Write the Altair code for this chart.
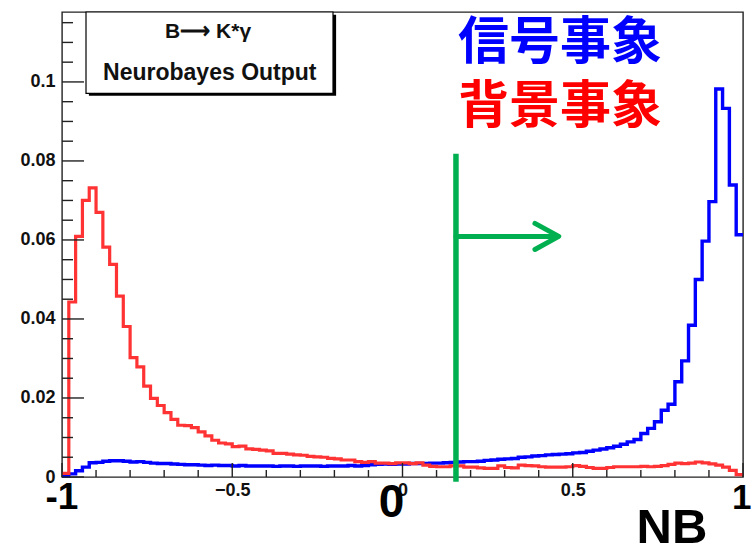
import altair as alt
import numpy as np
import pandas as pd

# ---------------- data ----------------
signal = [
    0.0003, 0.0008, 0.0016, 0.0025, 0.0036, 0.0037, 0.0040, 0.0041, 0.0041, 0.0040,
    0.0038, 0.0039, 0.0037, 0.0035, 0.0034, 0.0034, 0.0033, 0.0032, 0.0031, 0.0031,
    0.0030, 0.0029, 0.0030, 0.0029, 0.0029, 0.0028, 0.0029, 0.0028, 0.0028, 0.0028,
    0.0028, 0.0027, 0.0028, 0.0028, 0.0027, 0.0028, 0.0028, 0.0028, 0.0027, 0.0028,
    0.0028, 0.0028, 0.0029, 0.0028, 0.0029, 0.0031, 0.0032, 0.0033, 0.0032, 0.0033,
    0.0033, 0.0034, 0.0034, 0.0034, 0.0035, 0.0035, 0.0036, 0.0037, 0.0038, 0.0039,
    0.0039, 0.0040, 0.0042, 0.0043, 0.0045, 0.0046, 0.0047, 0.0050, 0.0051, 0.0053,
    0.0054, 0.0056, 0.0057, 0.0058, 0.0059, 0.0061, 0.0062, 0.0065, 0.0068, 0.0071,
    0.0074, 0.0078, 0.0083, 0.0089, 0.0095, 0.0110, 0.0123, 0.0140, 0.0169, 0.0184,
    0.0241, 0.0294, 0.0384, 0.0500, 0.0597, 0.0697, 0.0982, 0.0933, 0.0739, 0.0613,
]
background = [
    0.0009, 0.0443, 0.0609, 0.0700, 0.0732, 0.0670, 0.0582, 0.0538, 0.0458, 0.0381,
    0.0302, 0.0279, 0.0230, 0.0199, 0.0181, 0.0163, 0.0146, 0.0131, 0.0130, 0.0125,
    0.0114, 0.0104, 0.0093, 0.0086, 0.0084, 0.0077, 0.0078, 0.0071, 0.0070, 0.0068,
    0.0066, 0.0060, 0.0060, 0.0058, 0.0056, 0.0055, 0.0052, 0.0051, 0.0050, 0.0047,
    0.0046, 0.0043, 0.0043, 0.0039, 0.0037, 0.0039, 0.0035, 0.0035, 0.0034, 0.0036,
    0.0036, 0.0034, 0.0036, 0.0030, 0.0027, 0.0026, 0.0026, 0.0028, 0.0028, 0.0025,
    0.0025, 0.0023, 0.0022, 0.0022, 0.0028, 0.0024, 0.0023, 0.0030, 0.0029, 0.0028,
    0.0026, 0.0025, 0.0025, 0.0025, 0.0026, 0.0029, 0.0027, 0.0024, 0.0022, 0.0022,
    0.0024, 0.0026, 0.0026, 0.0026, 0.0026, 0.0027, 0.0026, 0.0027, 0.0029, 0.0032,
    0.0035, 0.0034, 0.0035, 0.0038, 0.0036, 0.0033, 0.0030, 0.0025, 0.0017, 0.0006,
]
x_label_values = [-0.5, 0, 0.5]
y_label_values = [0, 0.02, 0.04, 0.06, 0.08, 0.1]
big_x_labels = ["-1", "0", "1"]
big_x_positions = [-1.0, 0.0, 1.0]
cut_value = 0.157

# ---------------- helpers ----------------
edges = np.round(np.linspace(-1.0, 1.0, len(signal) + 1), 4)
XMIN, XMAX = -1.0, 1.0
YMIN, YMAX = 0.0, 0.1177
W, H = 681, 465


def hist_df(vals):
    xs = list(edges[:-1]) + [edges[-1]]
    ys = list(vals) + [vals[-1]]
    return pd.DataFrame({"x": xs, "y": ys})


xsc = alt.Scale(domain=[XMIN, XMAX], nice=False, zero=False)
ysc = alt.Scale(domain=[YMIN, YMAX], nice=False, zero=False)

base_x = alt.X("x:Q", scale=xsc,
               axis=alt.Axis(values=x_label_values, format="~g", title=None,
                             labelPadding=4))
base_y = alt.Y("y:Q", scale=ysc,
               axis=alt.Axis(values=y_label_values, format="~g", title=None,
                             labelPadding=7))

# histograms
blue = alt.Chart(hist_df(signal)).mark_line(
    interpolate="step-after", color="#0000ff", strokeWidth=3.4, strokeJoin="miter"
).encode(x=base_x, y=base_y)

red = alt.Chart(hist_df(background)).mark_line(
    interpolate="step-after", color="#ff3333", strokeWidth=3.2, strokeJoin="miter"
).encode(x=alt.X("x:Q", scale=xsc), y=alt.Y("y:Q", scale=ysc))

# inner ticks (ROOT style)
y_all = np.round(np.arange(0, 0.1176, 0.005), 4)
y_major = [v for v in y_all if abs(v / 0.02 - round(v / 0.02)) < 1e-6]
y_minor = [v for v in y_all if v not in y_major]
x_all = np.round(np.arange(-1.0, 1.0001, 0.1), 4)
x_major = [v for v in x_all if abs(v / 0.5 - round(v / 0.5)) < 1e-6]
x_minor = [v for v in x_all if v not in x_major]

tick_col = "#222222"
yt_major = alt.Chart(pd.DataFrame({"y": y_major})).mark_rule(color=tick_col, strokeWidth=1.4).encode(
    y=alt.Y("y:Q", scale=ysc), x=alt.value(0), x2=alt.value(22))
yt_minor = alt.Chart(pd.DataFrame({"y": y_minor})).mark_rule(color=tick_col, strokeWidth=1.4).encode(
    y=alt.Y("y:Q", scale=ysc), x=alt.value(0), x2=alt.value(11))
xt_major = alt.Chart(pd.DataFrame({"x": x_major})).mark_rule(color=tick_col, strokeWidth=1.4).encode(
    x=alt.X("x:Q", scale=xsc), y=alt.value(H), y2=alt.value(H - 14))
xt_minor = alt.Chart(pd.DataFrame({"x": x_minor})).mark_rule(color=tick_col, strokeWidth=1.4).encode(
    x=alt.X("x:Q", scale=xsc), y=alt.value(H), y2=alt.value(H - 7))

# legend box (pave) with shadow
shadow = alt.Chart(pd.DataFrame({"x": [-0.921], "x2": [-0.195], "y": [0.0965], "y2": [0.1170]})).mark_rect(
    color="#000000").encode(x=alt.X("x:Q", scale=xsc), x2="x2", y=alt.Y("y:Q", scale=ysc), y2="y2")
box = alt.Chart(pd.DataFrame({"x": [-0.9295], "x2": [-0.2041], "y": [0.0971], "y2": [0.1177]})).mark_rect(
    fill="white", stroke="#000000", strokeWidth=1.2).encode(
    x=alt.X("x:Q", scale=xsc), x2="x2", y=alt.Y("y:Q", scale=ysc), y2="y2")
box_text = alt.Chart(pd.DataFrame({
    "x": [-0.571, -0.566], "y": [0.1127, 0.1022],
    "t": ["B\u27f6 K*\u03b3", "Neurobayes Output"], "s": [21, 23]})).mark_text(
    font="Liberation Sans", fontWeight="bold", baseline="middle", align="center", color="#111111"
).encode(x=alt.X("x:Q", scale=xsc), y=alt.Y("y:Q", scale=ysc), text="t:N",
         size=alt.Size("s:Q", scale=None, legend=None))

# green cut line and arrow
green = "#00b050"
cut_line = alt.Chart(pd.DataFrame({"x": [cut_value], "y": [-0.0012], "y2": [0.0818]})).mark_rule(
    color=green, strokeWidth=5.5).encode(x=alt.X("x:Q", scale=xsc), y=alt.Y("y:Q", scale=ysc), y2="y2")
arrow_df = pd.DataFrame({
    "x": [cut_value, 0.455, 0.389, 0.459, 0.389],
    "y": [0.0609, 0.0609, 0.0642, 0.0609, 0.0576],
    "seg": ["a", "a", "b", "b", "b"],
    "o": [0, 1, 0, 1, 2],
})
arrow = alt.Chart(arrow_df).mark_line(color=green, strokeWidth=5, strokeCap="round", strokeJoin="round").encode(
    x=alt.X("x:Q", scale=xsc), y=alt.Y("y:Q", scale=ysc), detail="seg:N", order="o:Q")

# Japanese annotations
jp = alt.Chart(pd.DataFrame({
    "x": [0.4626, 0.4626], "y": [0.1096, 0.0935],
    "t": ["信号事象", "背景事象"], "c": ["#0000ff", "#ff0000"]})).mark_text(
    font="Noto Sans CJK JP", fontWeight="bold", fontSize=51, baseline="middle", align="center"
).encode(x=alt.X("x:Q", scale=xsc), y=alt.Y("y:Q", scale=ysc), text="t:N",
         color=alt.Color("c:N", scale=None, legend=None))


# big overlaid axis labels and NB title
def big_label(i, size, dx, ypx, align):
    df = pd.DataFrame({"x": [big_x_positions[i]], "t": [big_x_labels[i]]})
    return alt.Chart(df).mark_text(
        font="Liberation Sans", fontWeight="bold", fontSize=size, baseline="alphabetic",
        align=align, dx=dx, color="#000000"
    ).encode(x=alt.X("x:Q", scale=xsc), y=alt.value(ypx), text="t:N")


big_m1 = big_label(0, 37, 0, 497, "center")
big_0 = big_label(1, 46, -11, 505, "center")
big_1 = big_label(2, 35, -11, 497, "left")

nb = alt.Chart(pd.DataFrame({"x": [0.7915], "t": ["NB"]})).mark_text(
    font="Liberation Sans", fontWeight="bold", fontSize=49, baseline="alphabetic", align="center",
    color="#000000").encode(x=alt.X("x:Q", scale=xsc), y=alt.value(531), text="t:N")

chart = alt.layer(
    blue, red, yt_major, yt_minor, xt_major, xt_minor, shadow, box, box_text,
    cut_line, arrow, jp, big_m1, big_0, big_1, nb
).properties(
    width=W, height=H,
    autosize=alt.AutoSizeParams(type="none"),
    padding={"left": 62, "top": 12, "right": 9, "bottom": 76},
    background="white",
).configure_view(
    stroke="#222222", strokeWidth=1.4
).configure_axis(
    grid=False, domain=False, tickSize=0,
    labelFont="Liberation Sans", labelFontWeight="bold", labelFontSize=18, labelColor="#111111",
)

chart.save("out.html", embed_options={"renderer": "svg", "actions": False})
